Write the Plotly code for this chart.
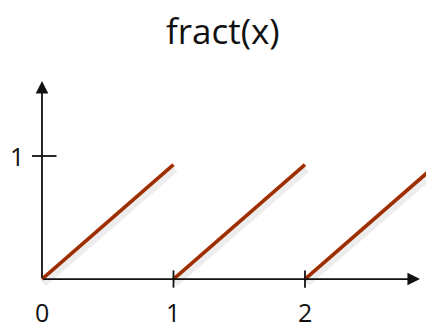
import plotly.graph_objects as go

# ── Data ──────────────────────────────────────────────────────────────────────
SEG_X = [[0, 1], [1, 2], [2, 3]]
SEG_Y = [[0, 0.93], [0, 0.93], [0, 0.93]]
X_TICKS = [0, 1, 2]
X_TICK_LABELS = ["0", "1", "2"]
Y_TICKS = [1]
Y_TICK_LABELS = ["1"]

C_LINE = "#A83200"
C_AXIS = "#111111"
FONT = "Open Sans, Noto Sans, sans-serif"

# page body has an 8px margin, so the plot area is laid out in shifted coords
X_RANGE = [-0.2586, 3.042]
Y_RANGE = [-0.463, 2.203]

fig = go.Figure()

for xs, ys in zip(SEG_X, SEG_Y):
    # soft shadow under each segment
    fig.add_trace(go.Scatter(x=xs, y=ys, mode="lines", hoverinfo="skip",
                             line=dict(color="rgba(0,0,0,0.07)", width=9),
                             xaxis="x2", yaxis="y2"))
for xs, ys in zip(SEG_X, SEG_Y):
    fig.add_trace(go.Scatter(x=xs, y=ys, mode="lines",
                             line=dict(color=C_LINE, width=3.6)))

# axis arrows
annotations = [
    dict(x=2.875, y=0, ax=0, ay=0, xref="x", yref="y", axref="x", ayref="y",
         text="", showarrow=True, arrowhead=2, arrowsize=1.4, arrowwidth=1.8,
         arrowcolor=C_AXIS),
    dict(x=0, y=1.61, ax=0, ay=0, xref="x", yref="y", axref="x", ayref="y",
         text="", showarrow=True, arrowhead=2, arrowsize=1.4, arrowwidth=1.8,
         arrowcolor=C_AXIS),
]
for v, t in zip(X_TICKS, X_TICK_LABELS):
    annotations.append(dict(x=v, y=-0.27, xref="x", yref="y", text=t, showarrow=False,
                            font=dict(family=FONT, size=25, color="#111")))
for v, t in zip(Y_TICKS, Y_TICK_LABELS):
    annotations.append(dict(x=-0.19, y=v, xref="x", yref="y", text=t, showarrow=False,
                            font=dict(family=FONT, size=25, color="#111")))

shapes = []
for v in X_TICKS[1:]:
    shapes.append(dict(type="line", xref="x", yref="y", x0=v, x1=v, y0=-0.07, y1=0.07,
                       line=dict(color=C_AXIS, width=1.8)))
for v in Y_TICKS:
    shapes.append(dict(type="line", xref="x", yref="y", x0=-0.076, x1=0.11, y0=v, y1=v,
                       line=dict(color=C_AXIS, width=1.8)))

fig.update_layout(
    width=434, height=328,
    margin=dict(l=0, r=0, t=0, b=0),
    paper_bgcolor="white", plot_bgcolor="white",
    showlegend=False,
    title=dict(text="fract(x)", x=0.495, xanchor="center", y=0.927, yanchor="middle",
               font=dict(family=FONT, size=35, color="#111")),
    xaxis=dict(range=X_RANGE, visible=False),
    yaxis=dict(range=Y_RANGE, visible=False),
    xaxis2=dict(range=[X_RANGE[0] - 0.008, X_RANGE[1] - 0.008], visible=False, overlaying="x"),
    yaxis2=dict(range=[Y_RANGE[0] + 0.03, Y_RANGE[1] + 0.03], visible=False, overlaying="y"),
    annotations=annotations,
    shapes=shapes,
)

fig.write_html("out.html")
